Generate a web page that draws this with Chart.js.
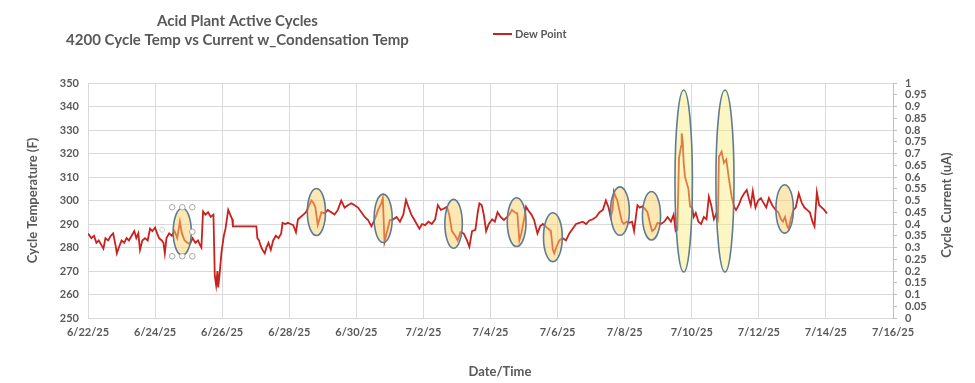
<!DOCTYPE html>
<html>
<head>
<meta charset="utf-8">
<script src="https://cdn.jsdelivr.net/npm/chart.js@4/dist/chart.umd.min.js"></script>
<style>
  html, body { margin: 0; padding: 0; background: #ffffff; }
  #wrap { width: 975px; height: 383px; }
</style>
</head>
<body>
<div id="wrap"><canvas id="c" width="975" height="383"></canvas></div>
<script>
// ---- data (x = days after 6/22/25) ----
const dateLabels = ['6/22/25','6/24/25','6/26/25','6/28/25','6/30/25','7/2/25','7/4/25','7/6/25','7/8/25','7/10/25','7/12/25','7/14/25','7/16/25'];
const leftTicksMin = 250, leftTicksMax = 350;
const rightTicksMin = 0, rightTicksMax = 1;

const days = [
  0.00,0.10,0.18,0.25,0.32,0.40,0.46,0.52,0.60,0.68,
  0.75,0.82,0.86,0.92,1.00,1.08,1.15,1.22,1.30,1.38,
  1.44,1.50,1.55,1.62,1.70,1.78,1.85,1.92,2.00,2.06,
  2.12,2.20,2.25,2.29,2.34,2.42,2.50,2.58,2.66,2.74,
  2.80,2.88,2.96,3.04,3.12,3.20,3.28,3.34,3.38,3.43,
  3.50,3.58,3.66,3.74,3.78,3.82,3.86,3.88,3.92,3.98,
  4.05,4.10,4.18,4.24,4.30,4.32,5.02,5.05,5.10,5.14,
  5.20,5.27,5.32,5.38,5.45,5.52,5.60,5.68,5.76,5.80,
  5.88,5.96,6.04,6.12,6.20,6.26,6.34,6.42,6.50,6.58,
  6.66,6.72,6.78,6.85,6.90,6.96,7.05,7.15,7.25,7.35,
  7.45,7.55,7.65,7.75,7.85,7.95,8.05,8.15,8.25,8.35,
  8.45,8.55,8.65,8.75,8.79,8.84,8.92,9.00,9.10,9.20,
  9.30,9.40,9.48,9.56,9.64,9.72,9.80,9.88,9.96,10.05,
  10.15,10.25,10.35,10.43,10.52,10.60,10.70,10.77,10.85,10.95,
  11.02,11.10,11.20,11.30,11.37,11.45,11.55,11.62,11.67,11.74,
  11.80,11.87,11.95,12.05,12.13,12.21,12.30,12.40,12.50,12.56,
  12.64,12.72,12.80,12.86,12.92,13.00,13.06,13.14,13.22,13.30,
  13.40,13.48,13.56,13.64,13.72,13.80,13.86,13.90,13.96,14.05,
  14.15,14.25,14.35,14.45,14.55,14.65,14.75,14.85,14.95,15.05,
  15.15,15.25,15.35,15.44,15.52,15.58,15.64,15.68,15.72,15.78,
  15.84,15.92,15.98,16.06,16.14,16.22,16.28,16.38,16.45,16.52,
  16.60,16.68,16.76,16.82,16.90,16.98,17.08,17.18,17.28,17.38,
  17.46,17.52,17.57,17.62,17.68,17.70,17.73,17.76,17.80,17.85,
  17.90,17.95,18.01,18.06,18.12,18.20,18.28,18.36,18.44,18.51,
  18.58,18.66,18.72,18.78,18.81,18.89,18.96,19.03,19.10,19.19,
  19.26,19.32,19.40,19.48,19.56,19.64,19.70,19.76,19.82,19.90,
  19.98,20.06,20.14,20.22,20.30,20.40,20.50,20.58,20.66,20.72,
  20.78,20.85,20.89,20.95,21.03,21.10,21.19,21.28,21.36,21.44,
  21.52,21.60,21.66,21.73,21.80,21.88,21.95,22.03
];
const dewPoint = [
  286,284,285,282,283,281,279.5,284,283,285,
  286,281,277.5,280,283,282,284,283,285,287,
  284,286,279,283,284,283,288,287,288.5,286,
  284,283,282,277.5,284,286,285,287,284,291,
  286,283,282,281.5,284,282,283,281,280,295.3,
  294,295,293,294,268,264,270,263,268,278,
  285,288,296,294,292,289,289,284,283,281,
  279,277.5,280,282,279,283,285,284,286,290.5,
  290,290.5,290,289.5,286.5,292,293,294,295,297.4,
  300,299,297,289.6,292,295,294.5,296,295,294,
  296,300,297,298,298.8,298,297,295,293,291.7,
  289,292,296,299,301,282.5,287,291.7,292,293,
  291,294,300.2,297,294,292,290,288,290,289.5,
  291,290,292,298,296,296.5,297.3,294,287,285,
  283,286.5,286,283,280.3,287,287.5,295,298.8,298,
  294,287,290,292,291,295,293,291.7,293,294,
  296,295,294.5,283,286,292,297.3,295.5,294,291.7,
  286,289,290,289,288,287,279,277.5,280,283,
  284,283,286,288,290,290.5,291,290,291.5,292,
  293,295,296,300,297,293,296,303.7,302,300,
  296,291,290,291,290.5,291,287,298,297,297.5,
  296.5,295,290,287,288,290.5,290,291,293,291,
  294,287,287.4,318,323,328.6,325,316,310,307.4,
  305,297.4,297,293,294.7,291,290,293,292,301.6,
  298,292,294,292,318.6,320.8,316,317.5,310,301.6,
  297.4,296,298,301,303,304.5,301,298,304,297,
  300,301,299,297,301,298,296,295,292,291,
  293,289,288,292,296,297,303,299,297,296,
  295,291,289,303.5,298,297,296,294.5
];

// highlighted cycles (ellipse annotations, in data units)
const cycleCenterDays  = [2.81, 6.81, 8.80, 10.90, 12.78, 13.86, 15.86, 16.80, 17.76, 18.99, 20.77];
const cycleCenterTemps = [286.7, 295.1, 292.4, 290.1, 290.8, 284.4, 295.5, 293.5, 308.3, 308.3, 296.4];
const cycleHalfDays    = [0.27, 0.27, 0.27, 0.26, 0.28, 0.28, 0.28, 0.27, 0.26, 0.27, 0.26];
const cycleHalfTemps   = [10, 10, 10.3, 10.4, 10.4, 10.4, 10.3, 10.3, 38.7, 38.7, 10.3];

const titleLines = ['Acid Plant Active Cycles', '4200 Cycle Temp vs Current w_Condensation Temp'];
const seriesName = 'Dew Point';
const rightAxisTitle = 'Cycle Current (uA)';
const xAxisTitle = 'Date/Time';

const FONT = 'Lato, "Open Sans", sans-serif';
const TEXT = '#595959';
const GRID = '#D9D9D9';
const LINE = '#C8211E';

const ellipsePlugin = {
  id: 'cycleEllipses',
  afterDatasetsDraw(chart) {
    const {ctx, scales} = chart;
    const xs = scales.x, ys = scales.y;
    ctx.save();
    for (let i = 0; i < cycleCenterDays.length; i++) {
      const cx = xs.getPixelForValue(cycleCenterDays[i]);
      const cy = ys.getPixelForValue(cycleCenterTemps[i]);
      const rx = Math.abs(xs.getPixelForValue(cycleCenterDays[i] + cycleHalfDays[i]) - cx);
      const ry = Math.abs(ys.getPixelForValue(cycleCenterTemps[i] + cycleHalfTemps[i]) - cy);
      const tall = cycleHalfTemps[i] > 20;
      ctx.beginPath();
      ctx.ellipse(cx, cy, rx, ry, 0, 0, Math.PI * 2);
      ctx.fillStyle = tall ? 'rgba(247,234,120,0.45)' : 'rgba(251,210,105,0.5)';
      ctx.fill();
      ctx.lineWidth = 1.6;
      ctx.strokeStyle = '#5E7C94';
      ctx.stroke();
      if (i === 0) {
        // selection handles around the first shape
        const pts = [[-1,-1],[0,-1],[1,-1],[1,0],[1,1],[0,1],[-1,1]];
        ctx.lineWidth = 1;
        ctx.strokeStyle = '#A6A6A6';
        ctx.fillStyle = '#FFFFFF';
        pts.forEach(([a,b]) => {
          ctx.beginPath();
          ctx.arc(cx + a * (rx + 1), cy + b * (ry + 1), 2.8, 0, Math.PI * 2);
          ctx.fill(); ctx.stroke();
        });
        ctx.beginPath();
        ctx.arc(cx - rx - 11, cy - 2, 2.5, 0, Math.PI * 2);
        ctx.strokeStyle = '#D0D0D0';
        ctx.stroke();
      }
    }
    ctx.restore();
  }
};

const textPlugin = {
  id: 'extraText',
  afterDraw(chart) {
    const ctx = chart.ctx;
    ctx.save();
    ctx.fillStyle = TEXT;
    ctx.textAlign = 'center';
    ctx.textBaseline = 'middle';
    ctx.font = 'bold 15px ' + FONT;
    ctx.fillText(titleLines[0], 237.5, 21.5);
    ctx.fillText(titleLines[1], 237.5, 40.5);
    // x axis title
    ctx.font = 'bold 13px ' + FONT;
    ctx.fillText(xAxisTitle, 500, 372);
    // legend
    ctx.strokeStyle = LINE;
    ctx.lineWidth = 2;
    ctx.beginPath();
    ctx.moveTo(493, 34); ctx.lineTo(512, 34);
    ctx.stroke();
    ctx.textAlign = 'left';
    ctx.font = 'bold 11px ' + FONT;
    ctx.fillText(seriesName, 515, 34);
    // right axis title (reads bottom-to-top)
    ctx.translate(947, 205);
    ctx.rotate(-Math.PI / 2);
    ctx.textAlign = 'center';
    ctx.font = 'bold 13px ' + FONT;
    ctx.fillText(rightAxisTitle, 0, 0);
    ctx.restore();
  }
};

new Chart(document.getElementById('c'), {
  type: 'line',
  data: {
    datasets: [{
      label: seriesName,
      data: days.map((d, i) => ({x: d, y: dewPoint[i]})),
      borderColor: LINE,
      backgroundColor: LINE,
      borderWidth: 1.8,
      pointRadius: 0,
      tension: 0,
      yAxisID: 'y'
    }]
  },
  options: {
    responsive: false,
    animation: false,
    devicePixelRatio: 1,
    layout: { padding: { top: 83, left: 0, right: 0, bottom: 0 } },
    plugins: {
      legend: { display: false },
      title: { display: false },
      tooltip: { enabled: false }
    },
    scales: {
      x: {
        type: 'linear',
        min: 0, max: 24,
        afterFit: s => { s.height = 65; },
        grid: { color: GRID, drawTicks: false },
        border: { color: GRID },
        ticks: {
          stepSize: 2, autoSkip: false, maxRotation: 0, padding: 8,
          color: TEXT, font: { family: FONT, size: 11, weight: 'bold' },
          callback: v => dateLabels[Math.round(v / 2)]
        },
        title: { display: false }
      },
      y: {
        position: 'left',
        min: leftTicksMin, max: leftTicksMax,
        afterFit: s => { s.width = 88; },
        grid: { color: GRID, drawTicks: false },
        border: { color: GRID },
        ticks: {
          stepSize: 10, autoSkip: false, padding: 9,
          color: TEXT, font: { family: FONT, size: 11, weight: 'bold' }
        },
        title: {
          display: true, text: 'Cycle Temperature (F)', color: TEXT,
          font: { family: FONT, size: 13, weight: 'bold' },
          padding: { top: 25, bottom: 0 }
        }
      },
      y1: {
        position: 'right',
        min: rightTicksMin, max: rightTicksMax,
        afterFit: s => { s.width = 82; },
        grid: { drawOnChartArea: false, drawTicks: true, tickLength: 4, color: '#BFBFBF' },
        border: { color: '#BFBFBF' },
        ticks: {
          stepSize: 0.05, autoSkip: false, padding: 8,
          color: TEXT, font: { family: FONT, size: 11, weight: 'bold' },
          callback: v => String(Math.round(v * 100) / 100)
        }
      }
    }
  },
  plugins: [ellipsePlugin, textPlugin]
});
</script>
</body>
</html>
